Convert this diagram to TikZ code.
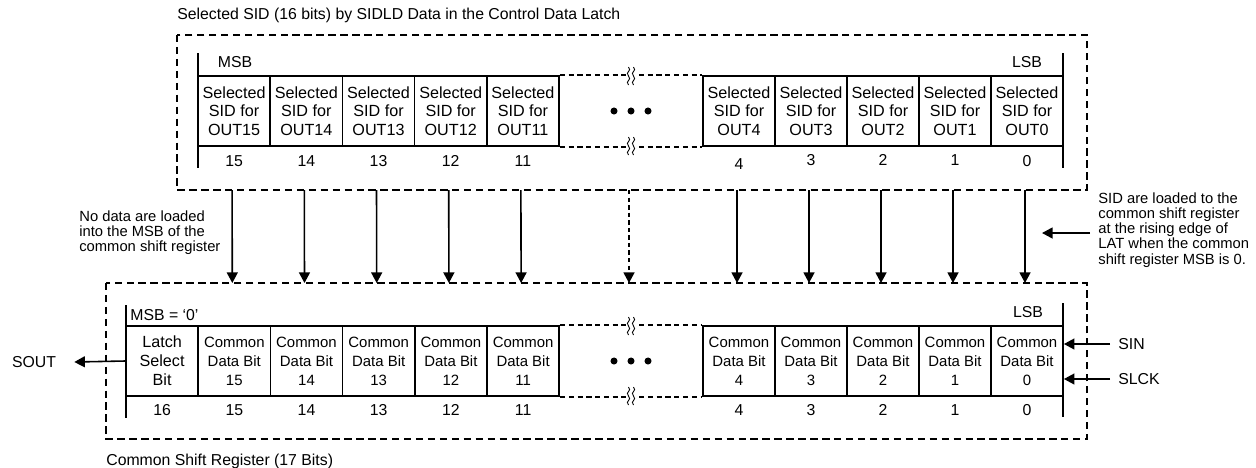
\documentclass[tikz,border=0pt]{standalone}
\usepackage{fontspec}
\setmainfont{Liberation Sans}
\usetikzlibrary{arrows.meta}
\begin{document}
\begin{tikzpicture}[x=0.02cm,y=-0.02cm,
  cellT/.style={draw,line width=0.9pt,minimum width=1.444cm,minimum height=1.4cm,inner sep=0pt,align=center,font=\fontsize{9.2}{10.6}\selectfont},
  cellB/.style={cellT,font=\fontsize{8.5}{10.8}\selectfont},
  cellL/.style={cellT,font=\fontsize{9.2}{10.8}\selectfont},
  num/.style={inner sep=0pt,font=\fontsize{9}{10}\selectfont},
  lbl/.style={inner sep=0pt,font=\fontsize{9}{10}\selectfont},
  note/.style={inner sep=0pt,align=left,font=\fontsize{8.4}{8.6}\selectfont},
  bar/.style={line width=1.5pt},
  gapline/.style={line width=1pt,dash pattern=on 3pt off 2pt},
  outerbox/.style={line width=0.6pt,dash pattern=on 4.2pt off 2.6pt},
  arr/.style={line width=0.9pt,-{Triangle[length=6pt,width=6.2pt]}},
  darr/.style={arr,dash pattern=on 2.5pt off 1.8pt},
  brk/.pic={
    \fill[white] (-5,-9) rectangle (5,9);
    \foreach \a in {-2.5,2.5}{
      \draw[line width=0.5pt] (\a,-9) .. controls (\a+4,-4.5) and (\a-4,-4.5) .. (\a,0) .. controls (\a+4,4.5) and (\a-4,4.5) .. (\a,9);
    }
  }
]
\useasboundingbox (0,0) rectangle (1256,467);

% ---------- outer dashed boxes ----------
\draw[outerbox] (177,35) rectangle (1087,190);
\draw[outerbox] (106,283) rectangle (1087,439);
\coordinate (tbb) at (0,190);
\coordinate (bbt) at (0,283);

\node[lbl,anchor=west] (ttitle) at (177,15) {Selected SID (16 bits) by SIDLD Data in the Control Data Latch};
\node[lbl,anchor=west] (btitle) at (106,461) {Common Shift Register (17 Bits)};

% ---------- top register ----------
\foreach \n/\x in {15/234.1,14/306.3,13/378.5,12/450.7,11/522.9,4/739,3/811,2/883,1/955,0/1027}{
  \node[cellT] (t\n) at (\x,111) {Selected\\SID for\\OUT\n};
}
\foreach \n/\x/\y in {15/234.1/161,14/306.3/161,13/378.5/161,12/450.7/161,11/522.9/161,4/739/164,3/811/160,2/883/160,1/955/160,0/1027/161}{
  \node[num] (tn\n) at (\x,\y) {\n};
}
\draw[gapline] (t11.north east) -- (t4.north west);
\draw[gapline] (t11.south east) -- (t4.south west);
\pic at (631,76) {brk};
\pic at (631,146) {brk};
\coordinate (tgap) at (631,111);
\fill (614,111) circle (2pt) (631,111) circle (2pt) (648,111) circle (2pt);
\draw[bar] (198,53) -- (198,168);
\draw[bar] (1063,53) -- (1063,168);
\node[lbl] (tmsb) at (235,62) {MSB};
\node[lbl] (tlsb) at (1027,62) {LSB};

% ---------- bottom register ----------
\node[cellL] (b16) at (162.1,361) {Latch\\Select\\Bit};
\foreach \n/\x in {15/234.3,14/306.5,13/378.7,12/450.9,11/523.1,4/739,3/811,2/883,1/955,0/1027}{
  \node[cellB] (b\n) at (\x,361) {Common\\Data Bit\\\n};
}
\foreach \n/\x in {16/162.1,15/234.3,14/306.5,13/378.7,12/450.9,11/523.1,4/739,3/811,2/883,1/955,0/1027}{
  \node[num] (bn\n) at (\x,410) {\n};
}
\draw[gapline] (b11.north east) -- (b4.north west);
\draw[gapline] (b11.south east) -- (b4.south west);
\pic at (631,326) {brk};
\pic at (631,396) {brk};
\coordinate (bgap) at (631,361);
\fill (614,361) circle (2pt) (631,361) circle (2pt) (648,361) circle (2pt);
\draw[bar] (126,305) -- (126,418);
\draw[bar] (1063,303) -- (1063,417);
\node[lbl,anchor=west] (bmsb) at (130,315) {MSB = ‘0’};
\node[lbl] (blsb) at (1028,312) {LSB};

% ---------- load arrows ----------
\foreach \n in {15,14,13,12,11,4,3,2,1,0}{
  \draw[arr] ([xshift=-0.04cm]t\n.center |- tbb) -- ([xshift=-0.04cm]b\n.center |- bbt);
}
\draw[darr] ([xshift=-0.04cm]tgap |- tbb) -- ([xshift=-0.04cm]bgap |- bbt);

% ---------- side labels ----------
\node[lbl] (sout) at (34,362) {SOUT};
\draw[arr] (b16.west) -- ([xshift=0.36cm]sout.east);
\node[lbl,anchor=west] (sin) at (1118,344) {SIN};
\draw[arr] ([xshift=-0.16cm]sin.west) -- (b0.east |- sin.west);
\node[lbl,anchor=west] (slck) at (1118,379) {SLCK};
\draw[arr] ([xshift=-0.16cm]slck.west) -- (b0.east |- slck.west);

% ---------- notes ----------
\node[note,anchor=west] (lnote) at (79,233) {No data are loaded\\into the MSB of the\\common shift register};
\node[note,anchor=west] (rnote) at (1098,230) {SID are loaded to the\\common shift register\\at the rising edge of\\LAT when the common\\shift register MSB is 0.};
\coordinate (rtip) at (1042,233);
\draw[arr] ([xshift=-0.16cm]rnote.west |- rtip) -- (rtip);
\end{tikzpicture}
\end{document}
